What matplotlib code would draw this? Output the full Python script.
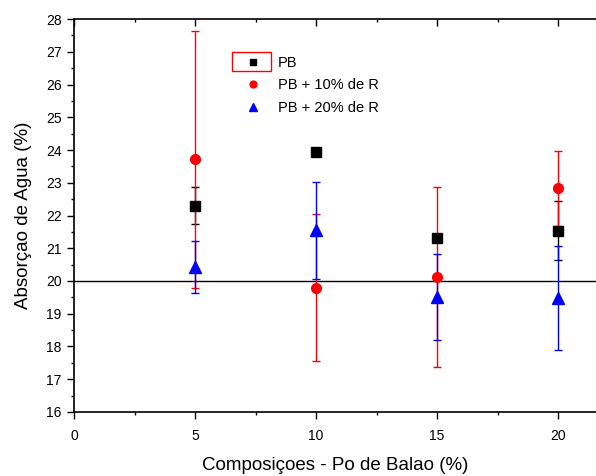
import matplotlib.pyplot as plt
from matplotlib.patches import Rectangle
from matplotlib.ticker import MultipleLocator

plt.rcParams['font.family'] = ['Liberation Sans', 'DejaVu Sans']

# Composicoes - Po de Balao (%)
x = [5, 10, 15, 20]

# PB
pb = [22.30, 23.93, 21.32, 21.53]
pb_err = [0.56, 0.0, 0.0, 0.90]

# PB + 10% de R
pb10 = [23.72, 19.80, 20.12, 22.83]
pb10_err = [3.92, 2.25, 2.74, 1.14]

# PB + 20% de R
pb20 = [20.43, 21.55, 19.52, 19.48]
pb20_err = [0.79, 1.48, 1.31, 1.60]

labels = ['PB', 'PB + 10% de R', 'PB + 20% de R']

fig = plt.figure(figsize=(5.96, 4.76), dpi=100)
ax = fig.add_axes([0.1242, 0.1345, 0.8758, 0.8255])

e1 = ax.errorbar(x, pb, yerr=pb_err, fmt='s', color='black', ms=7, capsize=3,
                 elinewidth=1, capthick=1, zorder=3)
e2 = ax.errorbar(x, pb10, yerr=pb10_err, fmt='o', color='red', ms=7, capsize=3,
                 elinewidth=1, capthick=1, zorder=3)
e3 = ax.errorbar(x, pb20, yerr=pb20_err, fmt='^', color='blue', ms=8, capsize=3,
                 elinewidth=1, capthick=1, zorder=3)

ax.axhline(20, color='black', lw=1, zorder=2)

ax.set_xlim(0, 21.57)
ax.set_ylim(16, 28)
ax.xaxis.set_major_locator(MultipleLocator(5))
ax.xaxis.set_minor_locator(MultipleLocator(2.5))
ax.yaxis.set_major_locator(MultipleLocator(1))
ax.yaxis.set_minor_locator(MultipleLocator(0.5))
ax.tick_params(axis='both', which='major', length=5, width=1, labelsize=10,
               direction='out', pad=4)
ax.tick_params(axis='x', which='major', pad=7)
ax.tick_params(axis='both', which='minor', length=2.5, width=1, direction='out')
ax.tick_params(axis='x', which='both', top=True)
ax.spines['right'].set_visible(False)
for s in ['left', 'bottom', 'top']:
    ax.spines[s].set_linewidth(1.2)

# top ticks point inward
for t in ax.xaxis.get_major_ticks() + ax.xaxis.get_minor_ticks():
    t.tick2line.set_marker(3)

ax.set_xlabel('Composiçoes - Po de Balao (%)', fontsize=13.5, labelpad=10)
ax.set_ylabel('Absorçao de Agua (%)', fontsize=13.5, labelpad=10)

ax.legend([e1[0], e2[0], e3[0]], labels, loc='upper left',
          bbox_to_anchor=(0.29, 0.94), frameon=False, markerscale=0.7,
          fontsize=10.5, handletextpad=0.72, labelspacing=0.58, handlelength=2.0)

# red selection box around first legend symbol
fig.patches.append(Rectangle((232 / 596, 1 - 71 / 476), 39 / 596, 19 / 476,
                             transform=fig.transFigure, fill=False,
                             edgecolor='red', lw=1))

fig.savefig('out.png', dpi=100)
